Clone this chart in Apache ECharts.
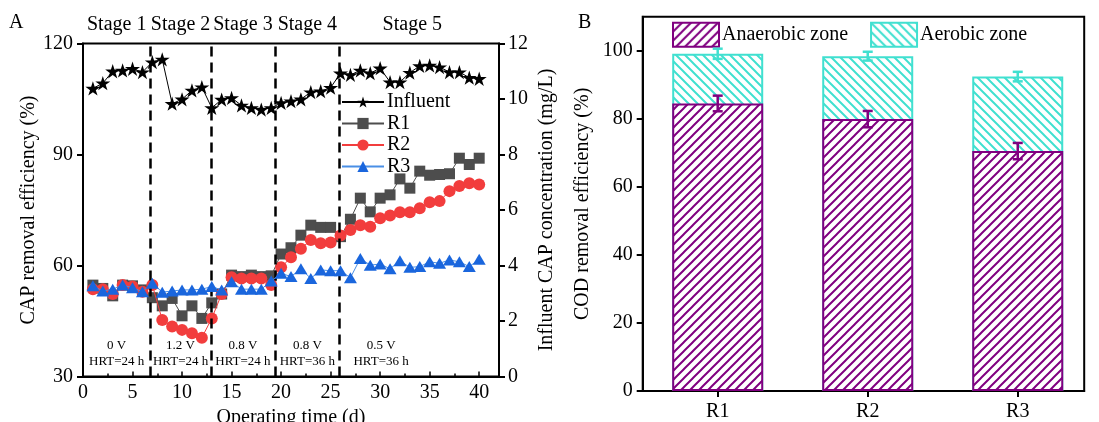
<!DOCTYPE html>
<html><head><meta charset="utf-8">
<script src="https://cdn.jsdelivr.net/npm/echarts@6/dist/echarts.min.js"></script>
<style>html,body{margin:0;padding:0;background:#fff}#c{width:1099px;height:422px}</style>
</head><body><div id="c"></div>
<script>
// ---------- data (panel A) ----------
const days = [1,2,3,4,5,6,7,8,9,10,11,12,13,14,15,16,17,18,19,20,21,22,23,24,25,26,27,28,29,30,31,32,33,34,35,36,37,38,39,40];
const influent = [10.38,10.57,11.0,11.03,11.09,10.97,11.33,11.43,9.83,9.99,10.31,10.43,9.68,9.98,10.04,9.77,9.68,9.62,9.68,9.86,
                  9.92,9.99,10.25,10.28,10.41,10.93,10.87,11.03,10.93,11.11,10.61,10.61,10.95,11.19,11.21,11.15,10.97,10.97,10.77,10.73];
const r1 = [54.7,53.8,51.8,54.7,54.5,53.4,51.3,49.1,51.1,46.4,49.1,45.7,49.9,52.3,57.4,57.0,57.4,57.0,57.2,63.1,
            64.8,68.2,70.9,70.3,70.3,67.8,72.5,78.2,74.5,78.2,79.1,83.4,80.9,85.5,84.4,84.6,84.8,89.0,87.3,89.0];
const r2 = [53.6,53.6,52.3,54.7,54.3,52.9,54.7,45.3,43.5,42.6,41.7,40.5,45.7,52.3,56.8,56.5,56.5,56.5,54.7,59.5,
            62.2,64.5,66.9,66.0,66.2,68.1,69.6,70.9,70.5,72.8,73.5,74.4,74.4,75.5,77.1,77.4,80.1,81.5,82.2,81.9];
const r3 = [54.5,53.1,53.6,54.7,54.0,52.9,55.2,52.8,53.1,53.4,53.4,53.6,54.3,53.4,55.6,53.6,53.6,53.6,55.8,57.9,
            57.0,59.1,56.5,58.8,58.6,58.6,56.7,61.9,60.1,60.4,59.1,61.3,59.5,59.7,61.0,60.6,61.5,61.0,59.7,61.7];
const stageBounds = [6.8, 12.9, 19.4, 25.9];
const stageNames = ['Stage 1','Stage 2','Stage 3','Stage 4','Stage 5'];
const stageTitleSpans = [[0,6.8],[6.8,12.9],[12.9,19.4],[19.4,25.9],[25.9,40.6]];
const conditionTexts = ['0 V\nHRT=24 h','1.2 V\nHRT=24 h','0.8 V\nHRT=24 h','0.8 V\nHRT=36 h','0.5 V\nHRT=36 h'];
const conditionSpans = [[0,6.8],[6.8,12.9],[12.9,19.4],[19.4,25.9],[25.9,34.3]];

// ---------- data (panel B) ----------
const reactors = ['R1','R2','R3'];
const anaerobic = [84.5, 79.9, 70.5];
const anaerobicErr = [2.3, 2.4, 2.4];
const aerobic = [14.6, 18.5, 21.9];
const totalErr = [1.5, 1.3, 1.4];

const FONT = '"Liberation Serif","Times New Roman",serif';
const PURPLE = '#800080', TURQ = '#40E0D0';
const STAR = 'path://M100 0 L122.45 69.1 L195.11 69.1 L136.33 111.8 L158.78 180.9 L100 138.2 L41.22 180.9 L63.67 111.8 L4.89 69.1 L77.55 69.1 Z';

function hatch(color, forward) {
  const s = 9, c = document.createElement('canvas');
  c.width = s; c.height = s;
  const g = c.getContext('2d');
  g.fillStyle = '#fff'; g.fillRect(0, 0, s, s);
  g.strokeStyle = color; g.lineWidth = 2; g.beginPath();
  if (forward) {
    for (const k of [0, s, 2 * s]) { g.moveTo(k + 2, -2); g.lineTo(k - s - 2, s + 2); }
  } else {
    for (const k of [-s, 0, s]) { g.moveTo(-2, k - 2); g.lineTo(s + 2, s + 2 + k); }
  }
  g.stroke();
  return {image: c, repeat: 'repeat'};
}

const axisLine = {show: true, lineStyle: {color: '#000', width: 2}};
const lbl = {color: '#000', fontFamily: FONT, fontSize: 20};

const markAreaData = [];
stageNames.forEach((n, i) => markAreaData.push([
  {xAxis: stageTitleSpans[i][0], name: n, label: {position: 'top', distance: 9, fontSize: 20}},
  {xAxis: stageTitleSpans[i][1]}]));
conditionTexts.forEach((n, i) => markAreaData.push([
  {xAxis: conditionSpans[i][0], name: n, label: {position: 'insideBottom', distance: 7, fontSize: 13, lineHeight: 16}},
  {xAxis: conditionSpans[i][1]}]));

function errRender(color) {
  return function (params, api) {
    const x = api.value(0), lo = api.value(1), hi = api.value(2);
    const a = api.coord([x, lo]), b = api.coord([x, hi]);
    const w = 5, st = {stroke: color, lineWidth: 2.5};
    return {type: 'group', children: [
      {type: 'line', shape: {x1: a[0], y1: a[1], x2: b[0], y2: b[1]}, style: st},
      {type: 'line', shape: {x1: a[0] - w, y1: a[1], x2: a[0] + w, y2: a[1]}, style: st},
      {type: 'line', shape: {x1: b[0] - w, y1: b[1], x2: b[0] + w, y2: b[1]}, style: st}
    ]};
  };
}

// stacked top of each bar (anaerobic + aerobic)
const totals = anaerobic.map((v, i) => v + aerobic[i]);

const chart = echarts.init(document.getElementById('c'));
chart.setOption({
  animation: false,
  backgroundColor: '#fff',
  textStyle: {fontFamily: FONT, color: '#000'},
  title: [
    {text: 'A', left: 9, top: 13, textStyle: {fontSize: 20, fontWeight: 'normal', fontFamily: FONT, color: '#000'}, padding: 0},
    {text: 'B', left: 578, top: 13, textStyle: {fontSize: 20, fontWeight: 'normal', fontFamily: FONT, color: '#000'}, padding: 0}
  ],
  grid: [
    {left: 83, top: 43.5, width: 416, height: 333, show: true, borderColor: '#000', borderWidth: 2, backgroundColor: 'transparent', outerBoundsMode: 'none', containLabel: false},
    {left: 642.7, top: 16.7, width: 441.5, height: 374.3, show: true, borderColor: '#000', borderWidth: 2, backgroundColor: 'transparent', outerBoundsMode: 'none', containLabel: false}
  ],
  legend: [
    {data: ['Influent','R1','R2','R3'], orient: 'vertical', left: 341, top: 92, itemWidth: 42, itemHeight: 14, itemGap: 1.5,
     textStyle: {fontSize: 20, fontFamily: FONT, color: '#000', lineHeight: 20, padding: [0,0,0,-2]}, padding: 0},
    {data: ['Anaerobic zone','Aerobic zone'], left: 672, top: 21.7, itemWidth: 46, itemHeight: 24, itemGap: 22, icon: 'rect',
     itemStyle: {borderWidth: 2},
     textStyle: {fontSize: 20, fontFamily: FONT, color: '#000', padding: [0,0,0,-2]}, padding: 0}
  ],
  xAxis: [
    {type: 'value', gridIndex: 0, min: 0, max: 42, interval: 5,
     name: 'Operating time (d)', nameLocation: 'middle', nameGap: 28, nameTextStyle: lbl,
     axisLine, axisTick: {inside: true, length: 5, lineStyle: {color: '#000', width: 1.5}},
     minorTick: {show: true, splitNumber: 2, length: 3, lineStyle: {color: '#000', width: 1.5}},
     axisLabel: Object.assign({margin: 6, showMaxLabel: false}, lbl), splitLine: {show: false}},
    {type: 'value', gridIndex: 1, min: 0.5, max: 3.443,
     axisLine, axisTick: {customValues: [1,2,3], length: 6, lineStyle: {color: '#000', width: 2}},
     axisLabel: Object.assign({customValues: [1,2,3], margin: 11, formatter: v => reactors[Math.round(v) - 1]}, lbl),
     splitLine: {show: false}}
  ],
  yAxis: [
    {type: 'value', gridIndex: 0, min: 30, max: 120, interval: 30,
     name: 'CAP removal efficiency (%)', nameLocation: 'middle', nameGap: 33, nameTextStyle: lbl,
     axisLine, axisTick: {length: 6, lineStyle: {color: '#000', width: 2}},
     axisLabel: Object.assign({margin: 10}, lbl), splitLine: {show: false}},
    {type: 'value', gridIndex: 0, position: 'right', min: 0, max: 12, interval: 2,
     name: 'Influent CAP concentration (mg/L)', nameLocation: 'middle', nameGap: 38, nameRotate: 90, nameTextStyle: lbl,
     axisLine, axisTick: {length: 6, lineStyle: {color: '#000', width: 2}},
     axisLabel: Object.assign({margin: 9}, lbl), splitLine: {show: false}},
    {type: 'value', gridIndex: 1, min: 0, max: 110, interval: 20,
     name: 'COD removal efficiency (%)', nameLocation: 'middle', nameGap: 50, nameTextStyle: lbl,
     axisLine, axisTick: {length: 6, lineStyle: {color: '#000', width: 2}},
     axisLabel: Object.assign({margin: 10, showMaxLabel: false}, lbl), splitLine: {show: false}}
  ],
  series: [
    {name: 'stages', type: 'line', xAxisIndex: 0, yAxisIndex: 0, data: [], silent: true, z: 1,
     markLine: {silent: true, symbol: 'none', label: {show: false}, lineStyle: {color: '#000', type: [10, 6], width: 2.5},
                data: stageBounds.map(b => ({xAxis: b}))},
     markArea: {silent: true, itemStyle: {color: 'rgba(0,0,0,0)'}, label: {color: '#000', fontFamily: FONT},
                data: markAreaData}},
    {name: 'Influent', type: 'line', xAxisIndex: 0, yAxisIndex: 1, data: days.map((d, i) => [d, influent[i]]),
     symbol: STAR, symbolKeepAspect: true, symbolSize: 15, showAllSymbol: true,
     itemStyle: {color: '#000'}, lineStyle: {color: '#000', width: 1}, z: 3},
    {name: 'R1', type: 'line', xAxisIndex: 0, yAxisIndex: 0, data: days.map((d, i) => [d, r1[i]]),
     symbol: 'rect', symbolSize: 11, showAllSymbol: true,
     itemStyle: {color: '#4d4d4d'}, lineStyle: {color: '#4d4d4d', width: 1}, z: 3},
    {name: 'R2', type: 'line', xAxisIndex: 0, yAxisIndex: 0, data: days.map((d, i) => [d, r2[i]]),
     symbol: 'circle', symbolSize: 12, showAllSymbol: true,
     itemStyle: {color: '#f23d3d'}, lineStyle: {color: '#f23d3d', width: 1}, z: 4},
    {name: 'R3', type: 'line', xAxisIndex: 0, yAxisIndex: 0, data: days.map((d, i) => [d, r3[i]]),
     symbol: 'triangle', symbolSize: [13, 11], showAllSymbol: true,
     itemStyle: {color: '#1a66dd'}, lineStyle: {color: '#4a8fe6', width: 1}, z: 5},
    // aerobic part: bar spanning up to the stacked total, drawn behind the anaerobic bar
    {name: 'Aerobic zone', type: 'bar', xAxisIndex: 1, yAxisIndex: 2, barWidth: 91, barGap: '-100%', z: 2,
     data: reactors.map((r, i) => [i + 1, totals[i]]),
     itemStyle: {color: hatch(TURQ, false), borderColor: TURQ, borderWidth: 2}},
    {name: 'Anaerobic zone', type: 'bar', xAxisIndex: 1, yAxisIndex: 2, barWidth: 91, barGap: '-100%', z: 3,
     data: reactors.map((r, i) => [i + 1, anaerobic[i]]),
     itemStyle: {color: hatch(PURPLE, true), borderColor: PURPLE, borderWidth: 2}},
    {name: 'errAnaerobic', type: 'custom', xAxisIndex: 1, yAxisIndex: 2, z: 10,
     data: reactors.map((r, i) => [i + 1, anaerobic[i] - anaerobicErr[i], anaerobic[i] + anaerobicErr[i]]),
     encode: {x: 0, y: [1, 2]}, renderItem: errRender(PURPLE)},
    {name: 'errTotal', type: 'custom', xAxisIndex: 1, yAxisIndex: 2, z: 10,
     data: reactors.map((r, i) => [i + 1, totals[i] - totalErr[i], totals[i] + totalErr[i]]),
     encode: {x: 0, y: [1, 2]}, renderItem: errRender(TURQ)}
  ]
});
</script></body></html>
